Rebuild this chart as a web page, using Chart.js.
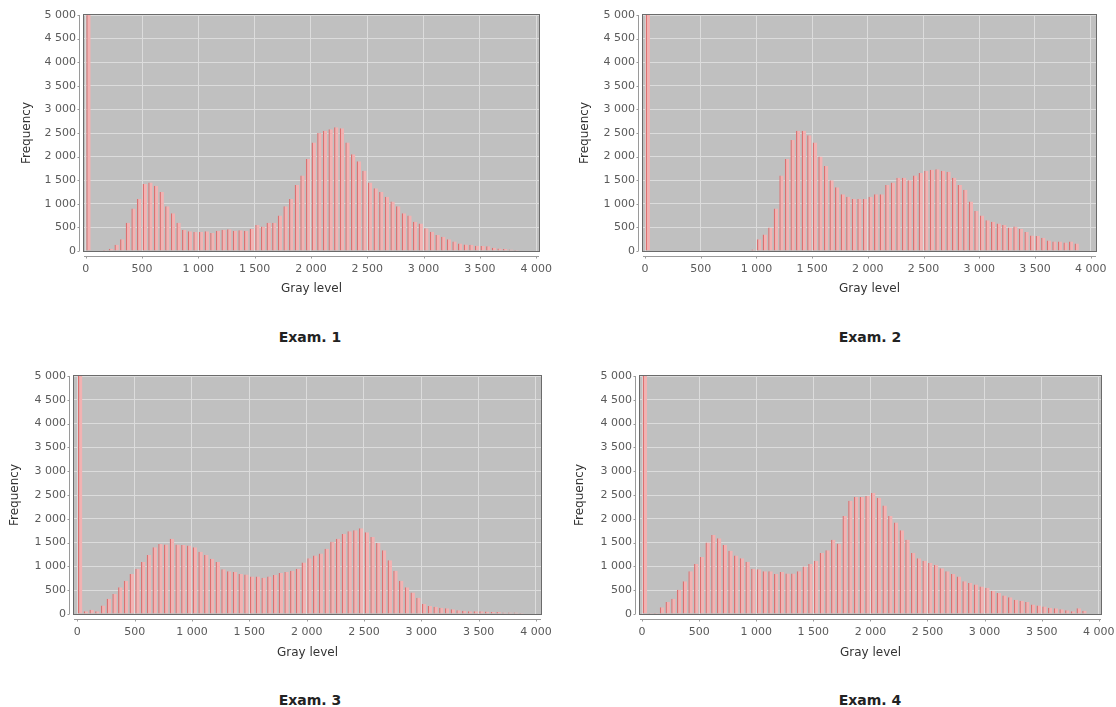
<!DOCTYPE html>
<html>
<head>
<meta charset="utf-8">
<script src="https://cdn.jsdelivr.net/npm/chart.js@4.4.1/dist/chart.umd.min.js"></script>
<style>
  body { margin: 0; background: #fff; width: 1116px; height: 707px; overflow: hidden; position: relative; }
  canvas { position: absolute; }
  .caption { position: absolute; width: 200px; margin-left: -100px; text-align: center; font: bold 14px "DejaVu Sans"; color: #222; line-height: 16px; }
</style>
</head>
<body>
<script>
// gray level bins (centre of each 50-level bin)
const binCenters = [
  25, 75, 125, 175, 225, 275, 325, 375, 425, 475,
  525, 575, 625, 675, 725, 775, 825, 875, 925, 975,
  1025, 1075, 1125, 1175, 1225, 1275, 1325, 1375, 1425, 1475,
  1525, 1575, 1625, 1675, 1725, 1775, 1825, 1875, 1925, 1975,
  2025, 2075, 2125, 2175, 2225, 2275, 2325, 2375, 2425, 2475,
  2525, 2575, 2625, 2675, 2725, 2775, 2825, 2875, 2925, 2975,
  3025, 3075, 3125, 3175, 3225, 3275, 3325, 3375, 3425, 3475,
  3525, 3575, 3625, 3675, 3725, 3775, 3825, 3875, 3925, 3975
];

const exam1 = [
  5000, 0, 0, 20, 50, 130, 250, 600, 900, 1100,
  1420, 1450, 1380, 1250, 950, 800, 600, 450, 420, 400,
  400, 420, 380, 430, 450, 460, 430, 440, 430, 470,
  550, 520, 600, 600, 750, 950, 1100, 1400, 1600, 1950,
  2300, 2500, 2550, 2580, 2620, 2600, 2300, 2050, 1900, 1700,
  1450, 1330, 1250, 1150, 1050, 950, 800, 750, 620, 580,
  480, 410, 340, 300, 250, 200, 160, 140, 130, 110,
  105, 100, 70, 55, 40, 30, 20, 10, 0, 0
];

const exam2 = [
  5000, 0, 0, 0, 0, 0, 0, 0, 0, 0,
  0, 0, 0, 0, 0, 0, 0, 0, 10, 30,
  250, 350, 500, 900, 1600, 1950, 2350, 2550, 2550, 2450,
  2300, 2000, 1800, 1500, 1350, 1200, 1150, 1100, 1100, 1100,
  1150, 1200, 1200, 1400, 1450, 1550, 1550, 1500, 1600, 1650,
  1700, 1720, 1730, 1700, 1680, 1550, 1400, 1300, 1050, 850,
  750, 650, 620, 580, 550, 500, 520, 470, 400, 330,
  320, 280, 220, 200, 200, 180, 200, 160, 0, 0
];

const exam3 = [
  5000, 60, 90, 60, 180, 320, 420, 560, 700, 840,
  950, 1090, 1240, 1400, 1470, 1460, 1580, 1460, 1450, 1440,
  1400, 1310, 1240, 1160, 1090, 940, 900, 880, 840, 830,
  790, 790, 760, 790, 820, 860, 880, 910, 950, 1080,
  1170, 1230, 1270, 1370, 1520, 1580, 1680, 1740, 1760, 1800,
  1720, 1620, 1490, 1340, 1130, 910, 700, 560, 450, 340,
  210, 170, 150, 130, 120, 100, 80, 70, 60, 60,
  60, 50, 40, 40, 30, 30, 30, 20, 10, 10
];

const exam4 = [
  5000, 20, 20, 140, 250, 320, 510, 690, 900, 1050,
  1200, 1500, 1660, 1590, 1450, 1330, 1230, 1170, 1100, 950,
  940, 900, 900, 840, 880, 850, 850, 900, 1000, 1050,
  1120, 1280, 1340, 1560, 1480, 2060, 2380, 2460, 2460, 2480,
  2540, 2440, 2280, 2060, 1920, 1760, 1560, 1280, 1170, 1120,
  1070, 1030, 960, 900, 840, 790, 690, 650, 620, 580,
  550, 490, 440, 390, 350, 300, 280, 250, 200, 180,
  160, 130, 120, 100, 80, 60, 120, 70, 0, 0
];

const xTicks = [0, 500, 1000, 1500, 2000, 2500, 3000, 3500, 4000];
const yTicks = [0, 500, 1000, 1500, 2000, 2500, 3000, 3500, 4000, 4500, 5000];

const captions = ["Exam. 1", "Exam. 2", "Exam. 3", "Exam. 4"];
const xTitle = "Gray level";
const yTitle = "Frequency";

// where each panel sits on the page
const panels = [
  { data: exam1, plot: { left: 84, top: 15, right: 539, bottom: 251 }, xMin: -15, xMax: 4025, yTitleX: 27, xTitleY: 289, capX: 310, capY: 329 },
  { data: exam2, plot: { left: 643, top: 15, right: 1096, bottom: 251 }, xMin: -18, xMax: 4048, yTitleX: 585, xTitleY: 289, capX: 870, capY: 329 },
  { data: exam3, plot: { left: 74, top: 376, right: 541, bottom: 614 }, xMin: -29, xMax: 4044, yTitleX: 15, xTitleY: 653, capX: 310, capY: 692 },
  { data: exam4, plot: { left: 640, top: 376, right: 1101, bottom: 614 }, xMin: -18, xMax: 4020, yTitleX: 580, xTitleY: 653, capX: 870, capY: 692 }
];

Chart.defaults.font.family = "DejaVu Sans";

function formatThousands(v) {
  return String(v).replace(/\B(?=(\d{3})+(?!\d))/g, " ");
}

// grey plot background, dark frame and the detached axis lines
const plotFrame = {
  id: "plotFrame",
  beforeDraw(chart) {
    const { ctx, chartArea: a } = chart;
    ctx.save();
    ctx.fillStyle = "#c0c0c0";
    ctx.fillRect(a.left, a.top, a.width, a.height);
    ctx.restore();
  },
  afterDatasetsDraw(chart) {
    const { ctx, chartArea: a, scales } = chart;
    ctx.save();
    ctx.strokeStyle = "#6b6b6b";
    ctx.lineWidth = 1;
    ctx.strokeRect(Math.round(a.left) - 0.5, Math.round(a.top) - 0.5, Math.round(a.width) + 1, Math.round(a.height) + 1);

    ctx.strokeStyle = "#9a9a9a";
    const xy = Math.round(a.bottom) + 5.5;
    ctx.beginPath();
    ctx.moveTo(a.left, xy);
    ctx.lineTo(a.right, xy);
    scales.x.ticks.forEach(t => {
      const px = Math.round(scales.x.getPixelForValue(t.value)) + 0.5;
      ctx.moveTo(px, xy);
      ctx.lineTo(px, xy + 2);
    });
    const yx = Math.round(a.left) - 4.5;
    ctx.moveTo(yx, a.top);
    ctx.lineTo(yx, a.bottom);
    scales.y.ticks.forEach(t => {
      const py = Math.round(scales.y.getPixelForValue(t.value)) + 0.5;
      ctx.moveTo(yx, py);
      ctx.lineTo(yx - 2, py);
    });
    ctx.stroke();
    ctx.restore();
  }
};

function makeChart(p, caption) {
  const padTop = 8;
  const padRight = 18;
  const left = Math.round(p.yTitleX - 7);
  const top = p.plot.top - padTop;
  const width = p.plot.right + padRight - left;
  const height = Math.round(p.xTitleY + 7) - top;
  const yWidth = p.plot.left - left;
  const xHeight = top + height - p.plot.bottom;

  const canvas = document.createElement("canvas");
  canvas.width = width;
  canvas.height = height;
  canvas.style.left = left + "px";
  canvas.style.top = top + "px";
  document.body.appendChild(canvas);

  new Chart(canvas, {
    type: "bar",
    data: {
      labels: binCenters,
      datasets: [{
        data: p.data,
        backgroundColor: "#f3b2b2",
        borderColor: "#dc7070",
        borderWidth: { left: 1.4, right: 0, top: 0, bottom: 0 },
        borderSkipped: false,
        barPercentage: 0.78,
        categoryPercentage: 1
      }]
    },
    options: {
      responsive: false,
      animation: false,
      devicePixelRatio: 1,
      layout: { padding: { top: padTop, right: padRight, left: 0, bottom: 0 } },
      plugins: {
        legend: { display: false },
        tooltip: { enabled: false }
      },
      scales: {
        x: {
          type: "linear",
          offset: false,
          min: p.xMin,
          max: p.xMax,
          afterBuildTicks: s => { s.ticks = xTicks.map(v => ({ value: v })); },
          afterFit: s => {
            s.height = xHeight;
            s.paddingLeft = 0;
            s.paddingRight = 0;
          },
          grid: { color: "#dcdcdc", drawTicks: false, offset: false },
          border: { display: false },
          ticks: {
            autoSkip: false,
            maxRotation: 0,
            padding: 12,
            color: "#5a5a5a",
            font: { size: 11 },
            callback: v => formatThousands(v)
          },
          title: { display: true, text: xTitle, color: "#333", font: { size: 12 }, padding: 0 }
        },
        y: {
          min: 0,
          max: 5000,
          afterBuildTicks: s => { s.ticks = yTicks.map(v => ({ value: v })); },
          afterFit: s => {
            s.width = yWidth;
            s.paddingTop = 0;
            s.paddingBottom = 0;
          },
          grid: { color: "#dcdcdc", drawTicks: false },
          border: { display: false },
          ticks: {
            padding: 8,
            color: "#5a5a5a",
            font: { size: 11 },
            callback: v => formatThousands(v)
          },
          title: { display: true, text: yTitle, color: "#333", font: { size: 12 }, padding: 0 }
        }
      }
    },
    plugins: [plotFrame]
  });

  const cap = document.createElement("div");
  cap.className = "caption";
  cap.style.left = p.capX + "px";
  cap.style.top = p.capY + "px";
  cap.textContent = caption;
  document.body.appendChild(cap);
}

panels.forEach((p, i) => makeChart(p, captions[i]));
</script>
</body>
</html>
